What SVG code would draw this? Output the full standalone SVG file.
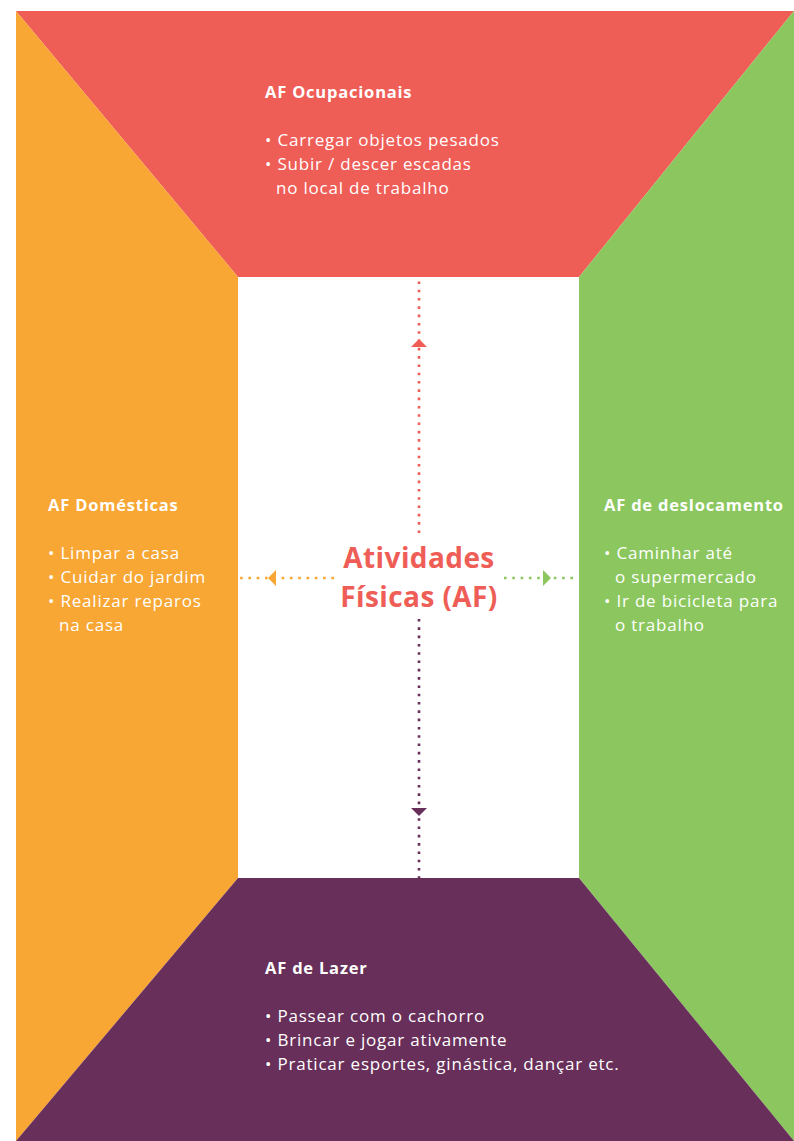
<svg xmlns="http://www.w3.org/2000/svg" width="794" height="1141" viewBox="0 0 794 1141">
<style>
.h{font-family:"Open Sans","Liberation Sans",sans-serif;font-weight:700;font-size:16.5px;letter-spacing:0.8px;fill:#fff}
.t{font-family:"Open Sans","Liberation Sans",sans-serif;font-size:17px;letter-spacing:0.8px;fill:#fff}
.c{font-family:"Open Sans","Liberation Sans",sans-serif;font-weight:700;font-size:28px;letter-spacing:0.4px;fill:#EF5D57;text-anchor:middle}
.d{fill:none;stroke-width:2.6;stroke-dasharray:2.6 5.7}
</style>
<rect width="794" height="1141" fill="#fff"/>
<g id="top">
<polygon points="16,11 794,11 579,277 238,277" fill="#EF5D57"/>
<text class="h" x="265" y="98">AF Ocupacionais</text>
<text class="t" x="265" y="146">• Carregar objetos pesados</text>
<text class="t" x="265" y="170">• Subir / descer escadas</text>
<text class="t" x="276" y="194">no local de trabalho</text>
</g>
<g id="left">
<polygon points="16,11 238,277 238,878 16,1141" fill="#F8A634"/>
<text class="h" x="48" y="511">AF Domésticas</text>
<text class="t" x="48" y="559">• Limpar a casa</text>
<text class="t" x="48" y="583">• Cuidar do jardim</text>
<text class="t" x="48" y="607">• Realizar reparos</text>
<text class="t" x="59" y="631">na casa</text>
</g>
<g id="right">
<polygon points="794,11 794,1141 579,878 579,277" fill="#8BC75E"/>
<text class="h" x="604" y="511">AF de deslocamento</text>
<text class="t" x="604" y="559">• Caminhar até</text>
<text class="t" x="615" y="583">o supermercado</text>
<text class="t" x="604" y="607">• Ir de bicicleta para</text>
<text class="t" x="615" y="631">o trabalho</text>
</g>
<g id="bottom">
<polygon points="238,878 579,878 794,1141 16,1141" fill="#672F59"/>
<text class="h" x="265" y="974">AF de Lazer</text>
<text class="t" x="265" y="1022">• Passear com o cachorro</text>
<text class="t" x="265" y="1046">• Brincar e jogar ativamente</text>
<text class="t" x="265" y="1070">• Praticar esportes, ginástica, dançar etc.</text>
</g>
<g id="center">
<text class="c" x="419" y="568">Atividades</text>
<text class="c" x="419" y="607">Físicas (AF)</text>
</g>
<g id="connectors">
<line class="d" x1="419" y1="533" x2="419" y2="279" stroke="#EF5D57"/>
<polygon points="419,339 411,347 427,347" fill="#EF5D57"/>
<line class="d" x1="419" y1="619" x2="419" y2="878" stroke="#672F59"/>
<polygon points="419,816 411,808 427,808" fill="#672F59"/>
<line class="d" x1="334" y1="578" x2="240" y2="578" stroke="#F8A634"/>
<polygon points="268,578 276,570 276,586" fill="#F8A634"/>
<line class="d" x1="504" y1="578" x2="577" y2="578" stroke="#8BC75E"/>
<polygon points="551,578 543,570 543,586" fill="#8BC75E"/>
</g>
</svg>
